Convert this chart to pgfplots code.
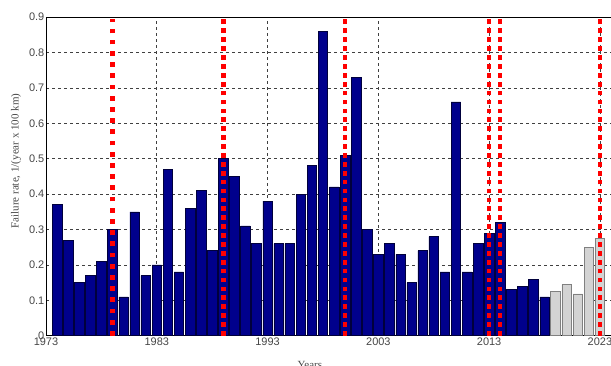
\documentclass[border=0pt]{standalone}
\usepackage{fontspec}
\setmainfont{Liberation Serif}
\newfontfamily\arial{Liberation Sans}
\usepackage{pgfplots}
\pgfplotsset{compat=1.18}
\usetikzlibrary{calc}
\definecolor{barnavy}{RGB}{0,0,140}
\definecolor{baredge}{RGB}{0,0,60}
\definecolor{grayfill}{RGB}{211,211,211}
\definecolor{grayedge}{RGB}{128,128,128}
\definecolor{txtgray}{RGB}{70,70,70}
\begin{document}
\begin{tikzpicture}
\begin{axis}[
  name=ax,
  scale only axis,
  width=565bp, height=318.7bp,
  xmin=1973, xmax=2024,
  ymin=0, ymax=0.9,
  xtick={1973,1983,1993,2003,2013,2023},
  ytick={0,0.1,0.2,0.3,0.4,0.5,0.6,0.7,0.8,0.9},
  /pgf/number format/assume math mode=true,
  /pgf/number format/1000 sep={},
  ticklabel style={font=\arial\fontsize{11}{13}\selectfont, text=txtgray},
  yticklabel style={inner sep=1.5bp},
  xticklabel style={inner sep=1.5bp},
  major tick length=0pt,
  axis line style={black, line width=0.8bp},
  grid=major,
  major grid style={black!75, line width=0.6bp, dash pattern=on 3bp off 3bp},
  axis on top=false,
  xlabel={Years},
  ylabel={Failure rate, 1/(year x 100 km)},
  label style={font=\fontsize{11}{13}\selectfont, text=txtgray},
  xlabel style={at={(axis description cs:0.467,-0.068)}, anchor=north},
  ylabel style={at={(axis description cs:-0.053,0.548)}, anchor=center, rotate=0},
]
\addplot[ybar, bar width=0.86, fill=barnavy, draw=baredge, line width=0.5bp] coordinates {
(1974,0.37) (1975,0.27) (1976,0.15) (1977,0.17) (1978,0.21)
(1979,0.30) (1980,0.11) (1981,0.35) (1982,0.17) (1983,0.20)
(1984,0.47) (1985,0.18) (1986,0.36) (1987,0.41) (1988,0.24)
(1989,0.50) (1990,0.45) (1991,0.31) (1992,0.26) (1993,0.38)
(1994,0.26) (1995,0.26) (1996,0.40) (1997,0.48) (1998,0.86)
(1999,0.42) (2000,0.51) (2001,0.73) (2002,0.30) (2003,0.23)
(2004,0.26) (2005,0.23) (2006,0.15) (2007,0.24) (2008,0.28)
(2009,0.18) (2010,0.66) (2011,0.18) (2012,0.26) (2013,0.29)
(2014,0.32) (2015,0.13) (2016,0.14) (2017,0.16) (2018,0.11)
};
\addplot[ybar, bar width=0.86, fill=grayfill, draw=grayedge, line width=0.8bp] coordinates {
(2019,0.124) (2020,0.144) (2021,0.118) (2022,0.25) (2023,0.274)
};
\addplot[red, line width=4.5bp, dash pattern=on 4.7bp off 6.5bp] coordinates {(1979,0) (1979,0.895)};
\addplot[red, line width=4.5bp, dash pattern=on 4.7bp off 4.2bp] coordinates {(1989,0) (1989,0.895)};
\addplot[red, line width=4.5bp, dash pattern=on 4.7bp off 4.2bp] coordinates {(2000,0) (2000,0.895)};
\addplot[red, line width=4.5bp, dash pattern=on 4.7bp off 4.2bp] coordinates {(2013,0) (2013,0.895)};
\addplot[red, line width=4.5bp, dash pattern=on 4.7bp off 4.2bp] coordinates {(2014,0) (2014,0.895)};
\addplot[red, line width=4.5bp, dash pattern=on 4.7bp off 4.2bp] coordinates {(2023,0) (2023,0.895)};
\end{axis}
\pgfresetboundingbox
\path[use as bounding box] ($(ax.south west)+(-46bp,-29.3bp)$) rectangle ($(ax.north east)+(0bp,17bp)$);
\end{tikzpicture}
\end{document}
